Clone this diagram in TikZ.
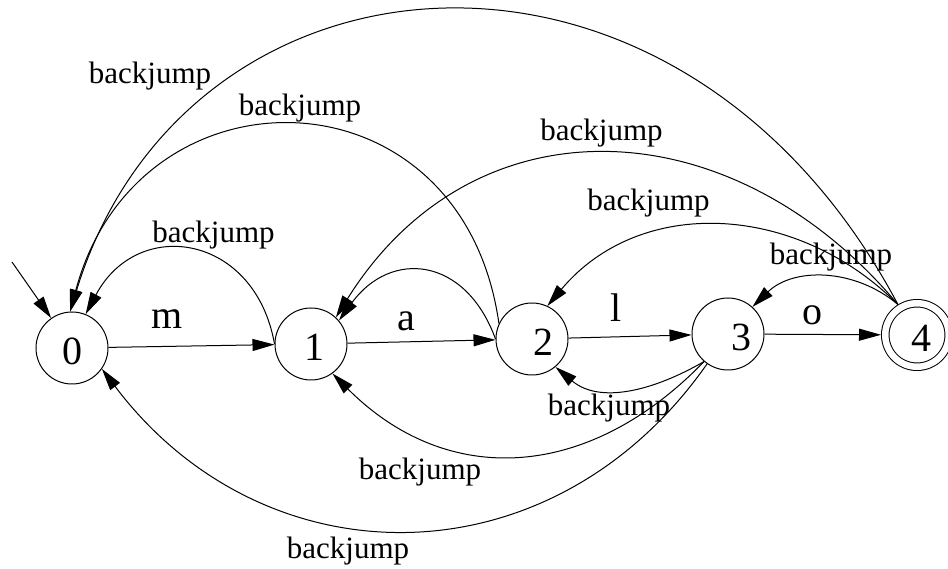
\documentclass[tikz,border=0pt]{standalone}
\usepackage{fontspec}
\setmainfont{Liberation Serif}
\usetikzlibrary{arrows.meta}

\tikzset{
  state/.style={draw, circle, line width=1pt, minimum size=72pt, inner sep=0pt,
    text height=33pt, text depth=0pt, font=\fontsize{40}{40}\selectfont},
  final/.style={double, double distance=6.5pt, minimum size=63.5pt, outer sep=4.25pt},
  sym/.style={font=\fontsize{40}{40}\selectfont},
  bj/.style={font=\fontsize{31}{31}\selectfont},
  tr/.style={line width=1pt, -{Triangle[length=22pt,width=12pt]}}
}

\begin{document}
\begin{tikzpicture}[x=1pt,y=1pt]
\useasboundingbox (0,0) rectangle (948,568);
%% states
\node[state] (n0) at (72,220) {0};
\node[state] (n1) at (311,224) {\kern6pt 1};
\node[state] (n2) at (532,229) {\kern22pt 2};
\node[state] (n3) at (728,234) {\kern26pt 3};
\node[state,final] (n4) at (917,233) {\kern8pt 4};
\coordinate (init) at (12,306);
%% forward
\draw[tr] (init) -- (n0);
\draw[tr] (n0) -- (n1);
\draw[tr] (n1) -- (n2);
\draw[tr] (n2) -- (n3);
\draw[tr] (n3) -- (n4);
\node[sym] (lm) at (167,249) {m};
\node[sym] (la) at (406,247) {a};
\node[sym] (ll) at (616,260) {l};
\node[sym] (lo) at (812,253) {o};
%% backjumps above
\draw[tr] (n4.122) to[out=118,in=73,out looseness=1.45,in looseness=1.22] (n0.93);
\draw[tr] (n2.155) to[out=98,in=75,looseness=1.56] (n0.93);
\draw[tr] (n1.180) to[out=100,in=62,looseness=1.49] (n0.68);
\draw[tr] (n4.122) to[out=130,in=58,looseness=1.18] (n1.47);
\draw[tr] (n2.180) to[out=110,in=54,looseness=1.43] (n1.40);
\draw[tr] (n4.122) to[out=135,in=50,looseness=1.05] (n2.65);
\draw[tr] (n4.122) to[out=140,in=44,looseness=1] (n3.48);
\node[bj] (bj40) at (150,491.5) {backjump};
\node[bj] (bj20) at (300,459.5) {backjump};
\node[bj] (bj10) at (213.5,333) {backjump};
\node[bj] (bj41) at (601.5,434.5) {backjump};
\node[bj] (bj42) at (648.5,364.5) {backjump};
\node[bj] (bj43) at (831,311) {backjump};
%% backjumps below
\draw[tr] (n3.229) to[out=210,in=-40] (n2.-50);
\draw[tr] (n3.229) to[out=226,in=-45,looseness=1.13] (n1.-54);
\draw[tr] (n3.235) to[out=235,in=-53,looseness=1.14] (n0.-35);
\node[bj] (bj32) at (609,160) {backjump};
\node[bj] (bj31) at (420,95.5) {backjump};
\node[bj] (bj30) at (348,17) {backjump};
\end{tikzpicture}
\end{document}
